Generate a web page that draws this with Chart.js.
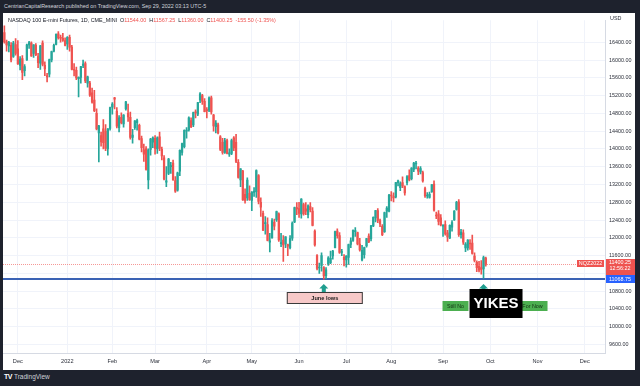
<!DOCTYPE html>
<html>
<head>
<meta charset="utf-8">
<script src="https://cdn.jsdelivr.net/npm/chart.js@4.4.0/dist/chart.umd.min.js"></script>
<style>
  html, body { margin: 0; padding: 0; width: 640px; height: 386px; overflow: hidden; background: #1e222d; font-family: "Liberation Sans", Arial, sans-serif; }
  .top { position: absolute; left: 4px; top: 3px; font-size: 5.4px; color: #d1d4dc; white-space: nowrap; }
  .frame { position: absolute; left: 3px; top: 13px; width: 632px; height: 357px; background: #fff; }
  .legend { position: absolute; left: 8px; top: 17px; font-size: 5.4px; color: #131722; white-space: nowrap; }
  .legend .v { color: #ef5350; }
  .foot { position: absolute; left: 4px; top: 373px; font-size: 6.5px; color: #d1d4dc; white-space: nowrap; }
  .foot b { color: #fff; font-size: 7px; letter-spacing: -0.5px; margin-right: 2px; }
</style>
</head>
<body>
<div class="top">CentrianCapitalResearch published on TradingView.com, Sep 29, 2022 03:13 UTC-5</div>
<div class="frame"><canvas id="c" width="632" height="357"></canvas></div>
<div class="legend" id="legend"></div>
<div class="foot"><b>TV</b>TradingView</div>
<script>
// NQZ2022 daily candles, Nov 22 2021 .. Sep 29 2022
const opens = [
  16620, 16410, 16320, 16330, 16080, 16350,
  16250, 15880, 16030, 15760, 16000, 16340, 16380, 16150, 16330, 16080, 15930, 16380, 15880, 15640, 15680, 16000, 16200, 16350, 16590, 16500, 16490, 16440,
  16360, 16510, 16290, 15790, 15770, 15580, 15610, 15880, 15920, 15480, 15480, 15260, 15100, 14800, 14360, 14300, 14450, 14400, 14000, 14460,
  14940, 15150, 14850, 14480, 14710, 14560, 14900, 14800, 14710, 14260, 14480, 14590, 14530, 14230, 13980, 14000, 13300, 13990, 14150,
  14240, 14000, 14270, 13990, 13800, 13250, 13450, 13600, 13680, 13290, 13070, 13500, 13920, 14050, 14400, 14430, 14640, 14540, 14820, 14780, 15100, 15200, 15070,
  14880, 14870, 15150, 14760, 14500, 14540, 14270, 14150, 13920, 14190, 13880, 13900, 14250, 14150, 13700, 13300, 13500, 12980, 12900, 13000,
  12840, 13020, 13040, 13400, 12800, 12550, 12320, 12300, 11900, 12000, 12350, 12400, 12540, 11870, 11950, 11860, 11850, 11780, 11990, 12360, 12680,
  12660, 12540, 12750, 12650, 12520, 12700, 12600, 12150, 11600, 11320, 11380, 11330, 11150, 11420, 11440, 11590, 11780, 12150, 12050, 11670, 11560,
  11500, 11560, 11850, 11940, 12140, 12120, 11860, 11500, 11620, 11820, 12040, 11980, 12270, 12450, 12610, 12390, 12260, 12140, 12600, 12600,
  12960, 12930, 12920, 13240, 13130, 13240, 13150, 13240, 13400, 13330, 13540, 13660, 13570, 13480, 13470, 13110, 12940, 12910, 13040, 13210, 12500, 12540, 12450,
  12260, 12300, 12110, 12000, 12240, 12400, 12640, 12810, 12070, 12110, 11770, 11770, 11880, 11880, 11590, 11450, 11360, 11330, 11300, 11544
];
const highs = [
  16770, 16450, 16420, 16390, 16420, 16480,
  16440, 16080, 16100, 15900, 16360, 16420, 16410, 16350, 16370, 16150, 16330, 16430, 15960, 15700, 16020, 16200, 16360, 16590, 16640, 16560, 16600, 16500,
  16530, 16560, 16330, 15920, 15840, 15620, 15860, 16000, 15960, 15640, 15520, 15370, 15320, 14900, 14530, 14380, 14660, 14550, 14460, 14940,
  15040, 15160, 14930, 14750, 14810, 14770, 15070, 15010, 14830, 14440, 14640, 14670, 14560, 14290, 14110, 14050, 14000, 14240, 14270,
  14300, 14270, 14380, 14040, 13850, 13600, 13790, 13700, 13750, 13380, 13480, 13980, 14130, 14430, 14480, 14720, 14700, 14830, 14880, 15050, 15270, 15230, 15130,
  14930, 15170, 15190, 14780, 14640, 14580, 14300, 14240, 14240, 14220, 14000, 14220, 14280, 14330, 13760, 13560, 13520, 13100, 13350, 13170,
  13040, 13130, 13530, 13420, 12900, 12600, 12480, 12450, 12100, 12430, 12420, 12600, 12560, 12100, 12050, 12030, 11860, 12050, 12360, 12690, 12790,
  12800, 12880, 12780, 12790, 12740, 12790, 12680, 12180, 11620, 11430, 11660, 11350, 11330, 11580, 11700, 11720, 12150, 12200, 12120, 11740, 11620,
  11600, 11860, 12000, 12180, 12230, 12130, 11990, 11830, 11790, 11990, 12090, 12280, 12470, 12620, 12660, 12420, 12300, 12580, 12700, 12980,
  13040, 13010, 13250, 13300, 13260, 13370, 13170, 13400, 13530, 13580, 13700, 13720, 13600, 13600, 13500, 13140, 13020, 13030, 13200, 13280, 12580, 12610, 12520,
  12300, 12380, 12170, 12290, 12390, 12610, 12820, 12860, 12190, 12180, 11890, 11960, 11960, 12060, 11660, 11480, 11470, 11490, 11590, 11567.25
];
const lows = [
  16380, 16200, 16180, 15960, 16060, 16110,
  15900, 15780, 15560, 15640, 15990, 16260, 16080, 16060, 16100, 15830, 15790, 15870, 15650, 15510, 15620, 15960, 16180, 16340, 16470, 16400, 16420, 16320,
  16240, 16200, 15780, 15640, 15560, 15170, 15480, 15830, 15490, 15390, 15180, 15030, 14840, 14430, 13710, 14060, 14000, 13960, 13860, 14420,
  14780, 14900, 14470, 14380, 14560, 14490, 14870, 14620, 14220, 14130, 14440, 14420, 14200, 13930, 13720, 13520, 13100, 13860, 14030,
  13880, 13900, 13960, 13750, 13300, 13150, 13420, 13450, 13290, 13020, 13050, 13400, 13860, 14020, 14240, 14400, 14480, 14500, 14700, 14750, 15040, 15000, 14830,
  14700, 14840, 14780, 14400, 14360, 14340, 13960, 13880, 13900, 13890, 13830, 13870, 13960, 13690, 13340, 13150, 12840, 12780, 12840, 12840,
  12610, 12930, 12910, 12760, 12480, 12160, 12080, 11930, 11680, 11990, 12180, 12370, 11920, 11800, 11470, 11780, 11600, 11750, 11940, 12340, 12520,
  12460, 12440, 12510, 12520, 12450, 12580, 12270, 11810, 11280, 11200, 11250, 11068.75, 11080, 11380, 11420, 11520, 11770, 11990, 11650, 11600, 11370,
  11340, 11400, 11780, 11920, 12030, 11840, 11700, 11480, 11540, 11790, 11890, 11930, 12250, 12360, 12340, 12250, 12050, 12120, 12460, 12580,
  12830, 12810, 12900, 13170, 13060, 13130, 12960, 13190, 13280, 13300, 13490, 13550, 13420, 13440, 13250, 12910, 12890, 12890, 13020, 12600, 12430, 12290, 12270,
  12030, 12060, 11920, 11980, 12150, 12390, 12620, 12030, 11990, 11850, 11690, 11720, 11740, 11630, 11460, 11240, 11230, 11180, 11090, 11360
];
const closes = [
  16410, 16340, 16400, 16000, 16380, 16150,
  15910, 16020, 15720, 15850, 16340, 16390, 16090, 16340, 16120, 15940, 16320, 15900, 15800, 15620, 16010, 16190, 16330, 16580, 16500, 16490, 16440, 16330,
  16510, 16290, 15790, 15770, 15600, 15610, 15850, 15910, 15530, 15620, 15210, 15050, 14860, 14450, 14520, 14160, 14140, 14010, 14450, 14930,
  15010, 15120, 14510, 14700, 14590, 14760, 15060, 14720, 14260, 14310, 14630, 14640, 14220, 14030, 13880, 13540, 13980, 14220, 14250,
  14010, 14250, 14010, 13840, 13320, 13280, 13770, 13610, 13310, 13050, 13460, 13970, 14120, 14420, 14410, 14700, 14500, 14820, 14810, 15040, 15240, 15070, 14840,
  14860, 15150, 14830, 14520, 14580, 14360, 13990, 13920, 14190, 13900, 13910, 14190, 14020, 13720, 13360, 13550, 12850, 12840, 13300, 12860,
  13030, 13050, 13510, 12820, 12690, 12170, 12320, 11940, 11930, 12390, 12260, 12590, 11950, 11880, 11840, 12020, 11810, 11980, 12330, 12680, 12650,
  12550, 12870, 12540, 12600, 12720, 12630, 12280, 11840, 11310, 11330, 11600, 11140, 11280, 11550, 11540, 11700, 12140, 12050, 11670, 11680, 11510,
  11590, 11850, 11930, 12170, 12140, 11860, 11730, 11720, 11780, 11980, 11910, 12270, 12460, 12610, 12390, 12310, 12070, 12570, 12670, 12960,
  12940, 12900, 13240, 13280, 13220, 13170, 13010, 13380, 13300, 13570, 13680, 13660, 13500, 13560, 13280, 12940, 12950, 12980, 13200, 12620, 12490, 12370, 12290,
  12270, 12090, 12020, 12280, 12340, 12600, 12800, 12070, 12130, 11900, 11860, 11950, 11860, 11650, 11490, 11330, 11270, 11290, 11555.75, 11400.25
];

// time axis: bar index where each month starts, and its label
const monthStarts = [6, 28, 48, 67, 90, 110, 131, 152, 172, 195, 216, 237, 258];
const monthLabels = ["Dec", "2022", "Feb", "Mar", "Apr", "May", "Jun", "Jul", "Aug", "Sep", "Oct", "Nov", "Dec"];
const priceTicks = [9600, 10000, 10400, 10800, 11200, 11600, 12000, 12400, 12800, 13200, 13600, 14000, 14400, 14800, 15200, 15600, 16000, 16400];

const lastPrice = 11400.25;
const juneLow = 11068.75;
const countdown = "12:56:22";

const UP = "#26a69a";
const DOWN = "#ef5350";
const FONT = "'Liberation Sans', Arial, sans-serif";

// legend line
const n = closes.length - 1;
const chg = closes[n] - closes[n - 1];
const pct = chg / closes[n - 1] * 100;
document.getElementById("legend").innerHTML =
  "NASDAQ 100 E-mini Futures, 1D, CME_MINI&nbsp; O<span class='v'>" + opens[n].toFixed(2) +
  "</span>&nbsp; H<span class='v'>" + highs[n].toFixed(2) +
  "</span>&nbsp; L<span class='v'>" + lows[n].toFixed(2) +
  "</span>&nbsp; C<span class='v'>" + closes[n].toFixed(2) +
  "&nbsp; " + chg.toFixed(2) + " (" + pct.toFixed(2) + "%)</span>";

const colors = closes.map((c, i) => (c >= opens[i] ? UP : DOWN));

function box(ctx, x, y, w, h, fill, stroke) {
  ctx.fillStyle = fill;
  ctx.fillRect(x, y, w, h);
  if (stroke) {
    ctx.strokeStyle = stroke;
    ctx.lineWidth = 1;
    ctx.strokeRect(x + 0.5, y + 0.5, w - 1, h - 1);
  }
}

function label(ctx, text, x, y, color, font) {
  ctx.fillStyle = color;
  ctx.font = font;
  ctx.textAlign = "center";
  ctx.textBaseline = "middle";
  ctx.fillText(text, x, y);
}

function arrow(ctx, x, tip) {
  ctx.fillStyle = "#1f9e8f";
  ctx.beginPath();
  ctx.moveTo(x, tip);
  ctx.lineTo(x + 4.5, tip + 4.5);
  ctx.lineTo(x + 2, tip + 4.5);
  ctx.lineTo(x + 2, tip + 8.5);
  ctx.lineTo(x - 2, tip + 8.5);
  ctx.lineTo(x - 2, tip + 4.5);
  ctx.lineTo(x - 4.5, tip + 4.5);
  ctx.closePath();
  ctx.fill();
}

const overlay = {
  id: "overlay",
  beforeDatasetsDraw(chart) {
    const { ctx, chartArea: a, scales: { y } } = chart;
    ctx.save();
    const yp = Math.round(y.getPixelForValue(lastPrice)) + 0.5;
    ctx.strokeStyle = "rgba(239,83,80,0.6)";
    ctx.lineWidth = 1;
    ctx.setLineDash([1, 1]);
    ctx.beginPath();
    ctx.moveTo(a.left, yp);
    ctx.lineTo(a.right, yp);
    ctx.stroke();
    ctx.setLineDash([]);
    const yb = Math.round(y.getPixelForValue(juneLow));
    ctx.strokeStyle = "#3b63b5";
    ctx.lineWidth = 2;
    ctx.beginPath();
    ctx.moveTo(a.left, yb);
    ctx.lineTo(a.right, yb);
    ctx.stroke();
    ctx.restore();
  },
  afterDraw(chart) {
    const { ctx, chartArea: a, scales: { x, y } } = chart;
    ctx.save();
    const yp = Math.round(y.getPixelForValue(lastPrice));
    const yb = Math.round(y.getPixelForValue(juneLow));
    const small = "5.4px " + FONT;

    // June lows
    const xj = x.getPixelForValue(142);
    arrow(ctx, xj, yb + 5);
    box(ctx, xj - 37, yb + 13, 76, 12, "#f7c9c9", "#3a3a3a");
    label(ctx, "June lows", xj + 1, yb + 19.5, "#1a1a1a", "bold 5.6px " + FONT);

    // Still No YIKES For Now
    const xs = x.getPixelForValue(213);
    arrow(ctx, xs, yb + 5);
    box(ctx, xs - 41, yb + 22, 26, 10, "#4caf50");
    label(ctx, "Still No", xs - 28, yb + 27.2, "#143314", small);
    box(ctx, xs + 33, yb + 22, 31, 10, "#4caf50");
    label(ctx, "For Now", xs + 49, yb + 27.2, "#143314", small);
    box(ctx, xs - 14, yb + 10, 53, 29, "#000");
    label(ctx, "YIKES", xs + 12.5, yb + 25, "#fff", "bold 15px " + FONT);

    // price scale tags: last price + countdown runs down to the blue June-low tag
    const blueTop = yb - 4;
    box(ctx, a.right + 1, yp - 5, 29, blueTop - (yp - 5), DOWN);
    label(ctx, lastPrice.toFixed(2), a.right + 15, yp - 1, "#fff", small);
    label(ctx, countdown, a.right + 15, yp + 5, "#fff", small);
    box(ctx, a.right - 28, yp - 4, 27, 7, DOWN);
    label(ctx, "NQZ2022", a.right - 14.5, yp - 0.5, "#fff", small);
    box(ctx, a.right + 1, blueTop, 29, 8, "#2962ff");
    label(ctx, juneLow.toFixed(2), a.right + 15, yb + 0.2, "#fff", small);

    ctx.textAlign = "left";
    ctx.fillStyle = "#2a2e39";
    ctx.font = small;
    ctx.textBaseline = "middle";
    ctx.fillText("USD", a.right + 5, 6);
    ctx.restore();
  }
};

new Chart(document.getElementById("c"), {
  type: "bar",
  data: {
    datasets: [
      {
        data: lows.map((l, i) => ({ x: i, y: [l, highs[i]] })),
        backgroundColor: colors,
        barThickness: 1,
        grouped: false,
        order: 2,
      },
      {
        data: opens.map((o, i) => ({ x: i, y: [o, closes[i]] })),
        backgroundColor: colors,
        barThickness: 1.6,
        minBarLength: 1,
        grouped: false,
        order: 1,
      },
    ],
  },
  options: {
    responsive: false,
    devicePixelRatio: 1,
    animation: false,
    layout: { padding: 0 },
    scales: {
      x: {
        type: "linear",
        min: -0.6,
        max: 267,
        offset: false,
        afterBuildTicks: (s) => { s.ticks = monthStarts.map((v) => ({ value: v })); },
        afterFit: (s) => { s.height = 17; },
        ticks: {
          autoSkip: false,
          maxRotation: 0,
          padding: 5,
          color: "#2a2e39",
          font: { size: 5.6, family: FONT },
          callback: (v) => monthLabels[monthStarts.indexOf(v)],
        },
        grid: { color: "#f0f3fa", drawTicks: false, offset: false },
        border: { color: "#d6dae3" },
      },
      y: {
        position: "right",
        min: 9408,
        max: 16895,
        beginAtZero: false,
        afterBuildTicks: (s) => { s.ticks = priceTicks.map((v) => ({ value: v })); },
        afterFit: (s) => { s.width = 30; },
        ticks: {
          padding: 4,
          color: "#2a2e39",
          font: { size: 5.4, family: FONT },
          callback: (v) => v.toFixed(2),
        },
        grid: { color: "#f0f3fa", drawTicks: false },
        border: { color: "#d6dae3" },
      },
    },
    plugins: {
      legend: { display: false },
      tooltip: { enabled: false },
    },
  },
  plugins: [overlay],
});
</script>
</body>
</html>
